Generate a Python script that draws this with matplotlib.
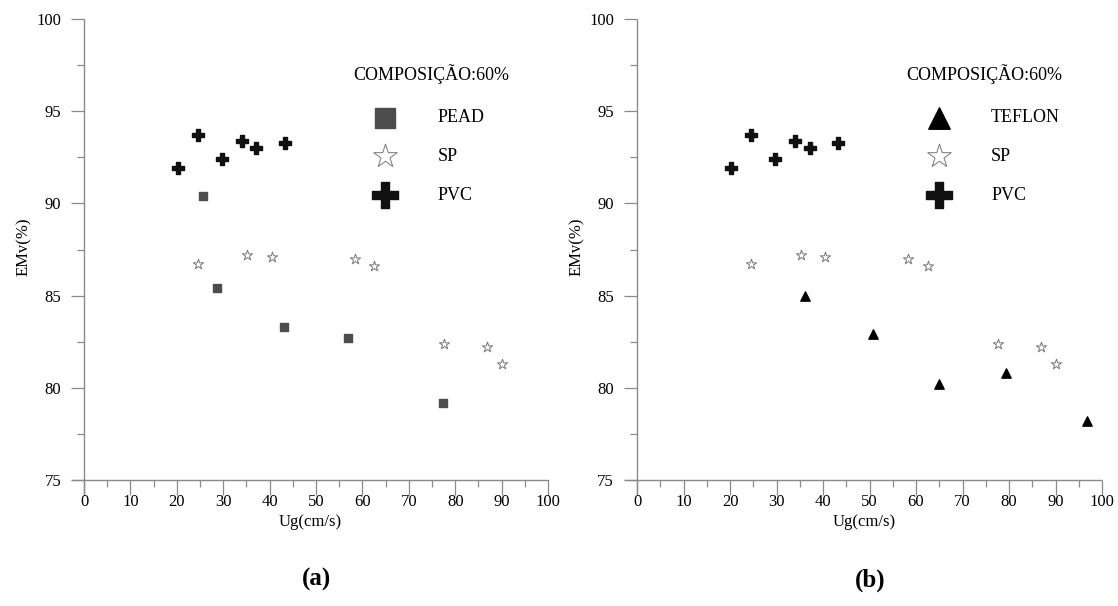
import numpy as np
import matplotlib.pyplot as plt
from matplotlib.ticker import MultipleLocator

plt.rcParams['font.family'] = ['Liberation Serif', 'DejaVu Serif']

# panel (a)
pead_x = [25.7, 28.7, 43.2, 56.9, 77.3]
pead_y = [90.4, 85.4, 83.3, 82.7, 79.2]

# panel (b)
teflon_x = [36.2, 50.7, 65.0, 79.4, 96.7]
teflon_y = [85.0, 82.9, 80.2, 80.8, 78.2]

# shared series (same in both panels)
sp_x = [24.6, 35.2, 40.4, 58.3, 62.5, 77.6, 86.8, 90.0]
sp_y = [86.7, 87.2, 87.1, 87.0, 86.6, 82.4, 82.2, 81.3]
pvc_x = [20.3, 24.6, 29.7, 34.0, 37.1, 43.3]
pvc_y = [91.9, 93.7, 92.4, 93.4, 93.0, 93.3]

x_ticks = list(range(0, 101, 10))
y_ticks = [75, 80, 85, 90, 95, 100]
title_txt = "COMPOSIÇÃO:60%"

fig = plt.figure(figsize=(11.18, 6.06), dpi=100)
ax_a = fig.add_axes([0.0648, 0.1865, 0.4254, 0.7821])
ax_b = fig.add_axes([0.5594, 0.1865, 0.4263, 0.7821])

axis_col = "#8a8a8a"


def style_axes(ax):
    ax.set_xlim(-2.5, 100)
    ax.set_ylim(74.3, 100)
    for s in ["top", "right"]:
        ax.spines[s].set_visible(False)
    ax.spines["left"].set_position(("data", 0))
    ax.spines["bottom"].set_position(("data", 75))
    for s in ["left", "bottom"]:
        ax.spines[s].set_color(axis_col)
        ax.spines[s].set_linestyle((0, (1, 1)))
        ax.spines[s].set_linewidth(1.0)
    ax.set_xticks(x_ticks)
    ax.set_yticks(y_ticks)
    ax.xaxis.set_minor_locator(MultipleLocator(5))
    ax.yaxis.set_minor_locator(MultipleLocator(2.5))
    ax.tick_params(axis="x", which="major", direction="out", length=11,
                   width=0.9, color=axis_col, labelsize=12, pad=-1)
    ax.tick_params(axis="x", which="minor", direction="out", length=5,
                   width=0.9, color=axis_col)
    ax.tick_params(axis="y", which="major", direction="out", length=9.5,
                   width=0.9, color=axis_col, labelsize=12, pad=7)
    ax.tick_params(axis="y", which="minor", direction="out", length=5,
                   width=0.9, color=axis_col)
    for t in ax.xaxis.get_ticklines(minor=True) + ax.yaxis.get_ticklines(minor=True) \
            + ax.xaxis.get_ticklines() + ax.yaxis.get_ticklines():
        t.set_linestyle((0, (1, 1)))
    ax.set_xlabel("Ug(cm/s)", fontsize=12)
    ax.set_ylabel("EMv(%)", fontsize=12)
    ax.xaxis.set_label_coords(0.5, -0.045)
    ax.yaxis.set_label_coords(-0.085, 0.52)


for ax in (ax_a, ax_b):
    style_axes(ax)

# (a)
ax_a.scatter(pead_x, pead_y, marker="s", s=36, color="#4d4d4d", label="PEAD", zorder=3)
ax_a.scatter(sp_x, sp_y, marker="*", s=60, facecolor="white", edgecolor="#777777",
             linewidth=0.7, label="SP", zorder=3)
ax_a.scatter(pvc_x, pvc_y, marker="P", s=70, color="#111111", label="PVC", zorder=3)

# (b)
ax_b.scatter(teflon_x, teflon_y, marker="^", s=45, color="#000000", label="TEFLON", zorder=3)
ax_b.scatter(sp_x, sp_y, marker="*", s=60, facecolor="white", edgecolor="#777777",
             linewidth=0.7, label="SP", zorder=3)
ax_b.scatter(pvc_x, pvc_y, marker="P", s=70, color="#111111", label="PVC", zorder=3)

for ax in (ax_a, ax_b):
    ax.text(58.0, 97.0, title_txt, fontsize=13, va="center", ha="left")
    ax.legend(loc="upper left", bbox_to_anchor=(61.0, 95.1), bbox_transform=ax.transData,
              frameon=False, fontsize=13, markerscale=2.3, borderpad=0,
              handlelength=2.0, handletextpad=1.9, labelspacing=1.2,
              borderaxespad=0)

fig.text(0.283, 0.043, "(a)", fontsize=18, fontweight="bold", ha="center", va="center")
fig.text(0.778, 0.043, "(b)", fontsize=18, fontweight="bold", ha="center", va="center")

fig.savefig("out.png", dpi=100)
